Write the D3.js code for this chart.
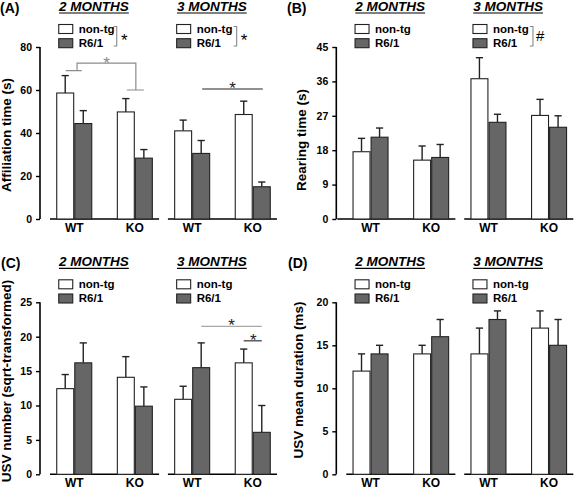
<!DOCTYPE html>
<html><head><meta charset="utf-8">
<script src="https://cdn.jsdelivr.net/npm/d3@7"></script>
<style>
body{margin:0;background:#fff}
text{font-family:"Liberation Sans",Arial,Helvetica,sans-serif;}
</style>
</head><body>
<svg id="c" width="574" height="489"></svg>
<script>
// ---------- data ----------
const months = ["2 MONTHS", "3 MONTHS"];
const genotypes = ["WT", "KO"];
const series = ["non-tg", "R6/1"];
// order of values: 2M-WT, 2M-KO, 3M-WT, 3M-KO
const affiliationNonTg    = [58.6, 49.8, 41.0, 48.6];
const affiliationNonTgSem = [8.1, 6.2, 5.0, 6.2];
const affiliationR61      = [44.4, 28.3, 30.5, 15.0];
const affiliationR61Sem   = [6.0, 4.0, 6.0, 2.2];

const rearingNonTg    = [17.6, 15.4, 36.7, 27.1];
const rearingNonTgSem = [3.5, 3.7, 5.5, 4.2];
const rearingR61      = [21.4, 16.1, 25.3, 24.0];
const rearingR61Sem   = [2.4, 3.4, 2.1, 3.0];

const usvNumberNonTg    = [12.45, 14.1, 10.9, 16.2];
const usvNumberNonTgSem = [2.05, 3.0, 1.9, 2.0];
const usvNumberR61      = [16.2, 9.9, 15.5, 6.1];
const usvNumberR61Sem   = [2.9, 2.8, 3.6, 3.9];

const usvDurationNonTg    = [12, 14, 14, 17];
const usvDurationNonTgSem = [2, 1, 3, 2];
const usvDurationR61      = [14, 16, 18, 15];
const usvDurationR61Sem   = [1, 2, 1, 3];

const ticksA = [0, 20, 40, 60, 80];
const ticksB = [0, 9, 18, 27, 36, 45];
const ticksC = [0, 5, 10, 15, 20, 25];
const ticksD = [0, 5, 10, 15, 20];

// legend significance marks per month
const legendMarksA = ["*", "*"];
const legendMarksB = ["", "#"];
const legendMarksC = ["", ""];
const legendMarksD = ["", ""];

// ---------- drawing ----------
const svg = d3.select("#c");
const FONT = '"Liberation Sans",Arial,Helvetica,sans-serif';
const DARK = "#666666";

const panels = [
  {tag:"(A)", tagX:0, ax:40, top:0, yTitle:"Affiliation time (s)", ticks:ticksA,
   nt:affiliationNonTg, ntE:affiliationNonTgSem, r:affiliationR61, rE:affiliationR61Sem,
   marks:legendMarksA, titleOff:29.5, titleY:135, baseStart:[10, 0]},
  {tag:"(B)", tagX:287, ax:336.3, top:0, yTitle:"Rearing time (s)", ticks:ticksB,
   nt:rearingNonTg, ntE:rearingNonTgSem, r:rearingR61, rE:rearingR61Sem,
   marks:legendMarksB, titleOff:30, titleY:140, baseStart:[1, 0]},
  {tag:"(C)", tagX:1, ax:40, top:255.3, yTitle:"USV number (sqrt-transformed)", ticks:ticksC,
   nt:usvNumberNonTg, ntE:usvNumberNonTgSem, r:usvNumberR61, rE:usvNumberR61Sem,
   marks:legendMarksC, titleOff:29.5, titleY:381, baseStart:[10, 0]},
  {tag:"(D)", tagX:288, ax:336.3, top:255.3, yTitle:"USV mean duration (ms)", ticks:ticksD,
   nt:usvDurationNonTg, ntE:usvDurationNonTgSem, r:usvDurationR61, rE:usvDurationR61Sem,
   marks:legendMarksD, titleOff:33.5, titleY:380, baseStart:[10, 0]}
];

panels.forEach((p, pi) => {
  const g = svg.append("g");
  const ax = p.ax, top = p.top;
  const y = d3.scaleLinear().domain([0, d3.max(p.ticks)]).range([top + 219, top + 47]);
  const monthX = d3.scaleBand().domain(months).range([ax + 10, ax + 237]).paddingInner(0.075);
  const groupX = d3.scalePoint().domain(genotypes).range([0, monthX.bandwidth()]).padding(0.4);
  const seriesX = d3.scaleBand().domain(series).range([-17.5, 17.5]).paddingInner(0.06);

  // panel tag
  g.append("text").attr("x", p.tagX).attr("y", top + 13).attr("font-size", 14)
    .attr("font-weight", "bold").text(p.tag);

  // y axis (offset style)
  const yAxis = d3.axisLeft(y).tickValues(p.ticks).tickSize(4).tickPadding(4);
  const ga = g.append("g").attr("transform", `translate(${ax},0)`).call(yAxis);
  ga.select(".domain").attr("d", `M0,${y(0)}V${y(d3.max(p.ticks))}`)
    .attr("stroke", "#000").attr("stroke-width", 1.6);
  ga.selectAll(".tick line").attr("stroke", "#000").attr("stroke-width", 1.4);
  ga.selectAll(".tick text").attr("font-family", FONT).attr("font-size", 10.5)
    .attr("font-weight", "bold").attr("fill", "#000");

  // y title
  g.append("text")
    .attr("transform", `translate(${ax - p.titleOff},${p.titleY}) rotate(-90)`)
    .attr("text-anchor", "middle").attr("font-size", 13.5).attr("font-weight", "bold")
    .text(p.yTitle);

  months.forEach((m, mi) => {
    const mx = monthX(m);
    // baseline segment
    const bs = mi === 0 ? ax + p.baseStart[0] : mx;
    g.append("line").attr("x1", bs).attr("x2", mx + monthX.bandwidth())
      .attr("y1", y(0)).attr("y2", y(0)).attr("stroke", "#000").attr("stroke-width", 1.6);

    // bars
    genotypes.forEach((gt, gi) => {
      const idx = mi * 2 + gi;
      const cx = mx + groupX(gt);
      const vals = [
        {s:"non-tg", v:p.nt[idx], e:p.ntE[idx], fill:"#fff"},
        {s:"R6/1", v:p.r[idx], e:p.rE[idx], fill:DARK}
      ];
      vals.forEach(d => {
        const x0 = cx + seriesX(d.s);
        const bc = x0 + seriesX.bandwidth() / 2;
        // error bar (upper only)
        g.append("line").attr("x1", bc).attr("x2", bc).attr("y1", y(d.v)).attr("y2", y(d.v + d.e))
          .attr("stroke", "#222").attr("stroke-width", 1.4);
        g.append("line").attr("x1", bc - 3.6).attr("x2", bc + 3.6)
          .attr("y1", y(d.v + d.e)).attr("y2", y(d.v + d.e))
          .attr("stroke", "#222").attr("stroke-width", 1.4);
        g.append("rect").attr("x", x0).attr("y", y(d.v))
          .attr("width", seriesX.bandwidth()).attr("height", y(0) - y(d.v))
          .attr("fill", d.fill).attr("stroke", "#222").attr("stroke-width", 1.1);
      });
      // x labels
      g.append("text").attr("x", cx).attr("y", top + 232).attr("text-anchor", "middle")
        .attr("font-size", 12).attr("font-weight", "bold").text(gt);
    });

    // month title + legend
    const lx = mx + groupX("WT") + seriesX("non-tg") + 2;
    const tt = g.append("text").attr("x", lx + 0.3).attr("y", top + 10.8)
      .attr("font-size", 13.5).attr("font-weight", "bold").attr("font-style", "italic").text(m);
    const tl = tt.node().getComputedTextLength();
    g.append("line").attr("x1", lx + 0.3).attr("x2", lx + 0.3 + tl)
      .attr("y1", top + 13).attr("y2", top + 13).attr("stroke", "#000").attr("stroke-width", 1.2);

    series.forEach((s, si) => {
      const by = top + 24.5 + si * 14.2;
      g.append("rect").attr("x", lx).attr("y", by).attr("width", 14).attr("height", 9)
        .attr("fill", si === 0 ? "#fff" : DARK).attr("stroke", "#222").attr("stroke-width", 1.1);
      g.append("text").attr("x", lx + 20).attr("y", by + 8.3).attr("font-size", 11.5)
        .attr("font-weight", "bold").text(s);
    });
    const mk = p.marks[mi];
    if (mk) {
      const bx = lx + (mi === 0 ? 58 : 60);
      g.append("path").attr("d", `M${bx - 3},${top + 26.5}H${bx}V${top + 46}H${bx - 3}`)
        .attr("fill", "none").attr("stroke", "#888").attr("stroke-width", 1.1);
      if (mk === "#") {
        g.append("text").attr("x", bx + 3).attr("y", top + 41).attr("font-size", 15)
          .text(mk);
      } else {
        g.append("text").attr("x", bx + 7.5).attr("y", top + 45.5).attr("text-anchor", "middle")
          .attr("font-size", 17).text(mk);
      }
    }
  });

  // significance annotations
  const cen = (mi, gt, s) => monthX(months[mi]) + groupX(gt) + seriesX(s) + seriesX.bandwidth() / 2;
  const gcen = (mi, gt) => monthX(months[mi]) + groupX(gt);
  const star = (x, cyv, color) => g.append("text").attr("x", x).attr("y", cyv + 10)
      .attr("text-anchor", "middle").attr("font-size", 17).attr("fill", color).text("*");
  if (pi === 0) {
    // 2 months: gray bracket between WT and KO groups
    const wx = gcen(0, "WT"), kx = gcen(0, "KO");
    const gray = "#8c8c8c";
    g.append("path").attr("d",
      `M${wx - 8.5},${y(69)}H${wx + 7.5}M${wx + 2.8},${y(69)}V${y(72.5)}H${kx + 1}V${y(60)}M${kx - 8},${y(60)}H${kx + 9}`)
      .attr("fill", "none").attr("stroke", gray).attr("stroke-width", 1.2);
    star((wx + kx) / 2 + 2, y(72.5) - 4, gray);
    // 3 months: black line R6/1 WT vs R6/1 KO
    const a = cen(1, "WT", "R6/1"), b = cen(1, "KO", "R6/1");
    g.append("line").attr("x1", a + 1).attr("x2", b + 1).attr("y1", y(60.5)).attr("y2", y(60.5))
      .attr("stroke", "#222").attr("stroke-width", 1.1);
    star((a + b) / 2 + 1, y(60.5) - 4.5, "#222");
  }
  if (pi === 2) {
    const a = cen(1, "WT", "R6/1"), b = cen(1, "KO", "R6/1"), c = cen(1, "KO", "non-tg");
    g.append("line").attr("x1", a).attr("x2", b).attr("y1", y(21.5)).attr("y2", y(21.5))
      .attr("stroke", "#a8a8a8").attr("stroke-width", 1.4);
    star((a + b) / 2, y(21.5) - 5, "#222");
    g.append("line").attr("x1", c).attr("x2", b).attr("y1", y(19.4)).attr("y2", y(19.4))
      .attr("stroke", "#222").attr("stroke-width", 1.1);
    star((c + b) / 2 + 0.5, y(19.4) - 5, "#222");
  }
});
</script>
</body></html>
